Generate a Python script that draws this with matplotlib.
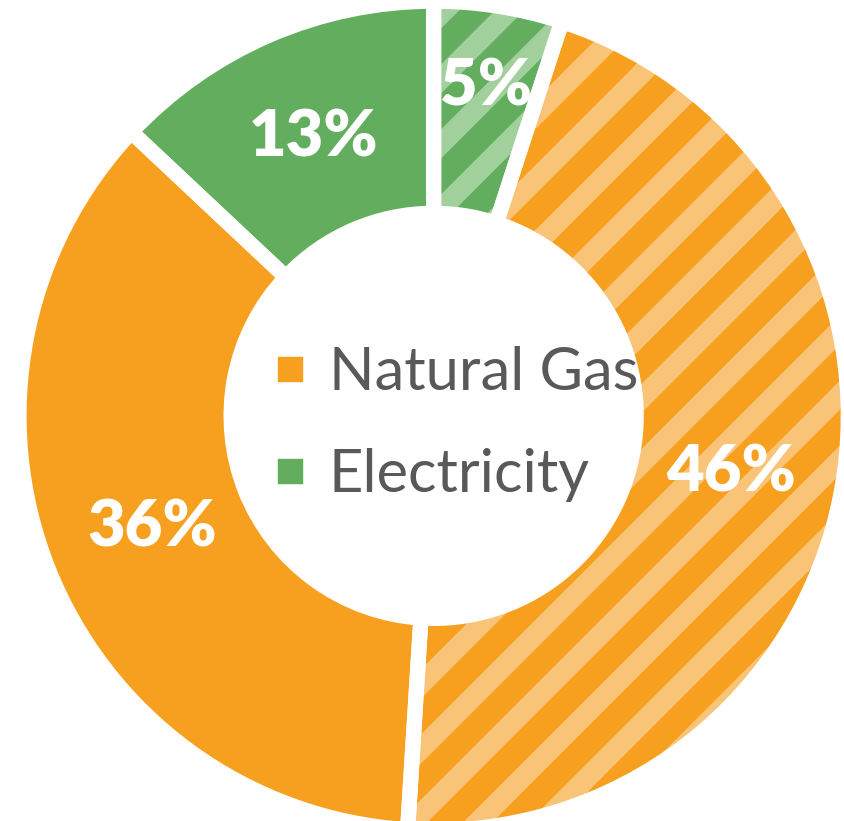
import matplotlib
matplotlib.use('Agg')
import matplotlib.pyplot as plt
from matplotlib.lines import Line2D

# slices, clockwise from 12 o'clock
slice_values = [5, 46, 36, 13]
slice_colors = ['#63AE5E', '#F7A01F', '#F7A01F', '#63AE5E']
stripe_colors = ['#A1D09C', '#F9C478', None, None]
slice_hatch = ['//', '//', None, None]

legend_labels = ['Natural Gas', 'Electricity']
legend_colors = ['#F7A01F', '#63AE5E']

DPI = 390
W, H = 844, 821
plt.rcParams['font.family'] = ['Lato', 'DejaVu Sans']
plt.rcParams['hatch.linewidth'] = 3.8

fig = plt.figure(figsize=((W + 0.3) / DPI, (H + 0.3) / DPI), dpi=DPI)
ax = fig.add_axes([0, 0, 1, 1])

# pie is drawn in pixel-like units
r_out = 414.5
ring = 212

wedges, _, autotexts = ax.pie(
    slice_values, colors=slice_colors, hatch=slice_hatch,
    startangle=90, counterclock=False, radius=r_out,
    autopct='%1.0f%%', pctdistance=0.73,
    wedgeprops=dict(width=ring, linewidth=0),
    textprops=dict(color='white', fontsize=12, fontweight='heavy'))

for w, sc in zip(wedges, stripe_colors):
    if sc:
        w.set_edgecolor(sc)
        w.set_linewidth(0)

# small slice label sits a bit further out
x0, y0 = autotexts[0].get_position()
autotexts[0].set_position((x0 * 1.1, y0 * 1.1))

# white gaps between slices
ax.pie(slice_values, startangle=90, counterclock=False, radius=r_out,
       wedgeprops=dict(width=ring, fill=False, edgecolor='white', linewidth=2.8))

handles = [Line2D([], [], marker='s', linestyle='none', markersize=3.7,
                  markerfacecolor=c, markeredgecolor=c) for c in legend_colors]
ax.legend(handles, legend_labels, loc='center', frameon=False,
          bbox_to_anchor=(452 / W, 1 - 424 / H), bbox_transform=fig.transFigure,
          prop=dict(size=11), labelcolor='#595959',
          handletextpad=0.25, handlelength=0.8, labelspacing=0.8)

ax.set_xlim(-433.5, W - 433.5)
ax.set_ylim(-(H - 416), 416)
ax.set_aspect('equal')
ax.axis('off')

fig.savefig('out.png', dpi=DPI)
